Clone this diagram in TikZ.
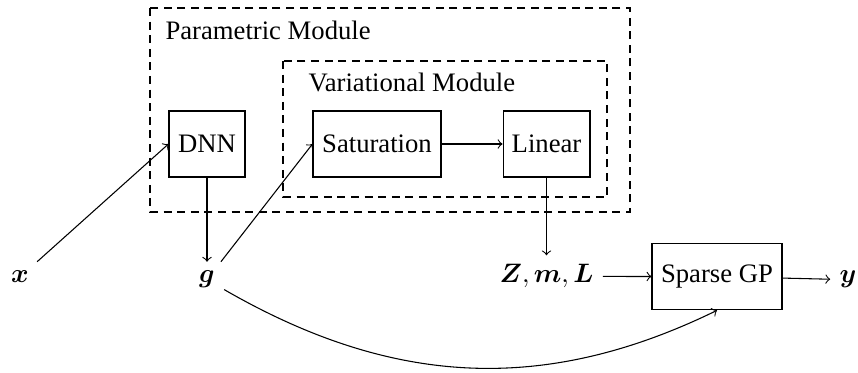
\documentclass[tikz,border=0pt]{standalone}
\usepackage{bm}
\usepackage{fontspec}
\setmainfont{Liberation Serif}
\begin{document}
\begin{tikzpicture}[x=0.375pt,y=-0.375pt,
  blk/.style={draw, line width=0.4pt, minimum height=24.75pt, inner sep=0pt, font=\fontsize{10}{12}\selectfont},
  lbl/.style={inner sep=3.33pt, anchor=base},
  modbox/.style={draw, dash pattern=on 3pt off 2.1pt, line width=0.4pt},
  modtext/.style={anchor=base west, inner sep=0pt, font=\fontsize{10}{12}\selectfont},
  conn/.style={->, line width=0.4pt}]
\useasboundingbox (0,0) rectangle (858,373);
% dashed modules
\draw[modbox] (150,8) rectangle (630,212);
\draw[modbox] (283,61) rectangle (607,197);
\node[modtext] (ptext) at (165,40) {Parametric Module};
\node[modtext] (vtext) at (308,92) {Variational Module};
% blocks
\node[blk, minimum width=28.5pt] (dnn) at (207,144) {DNN};
\node[blk, minimum width=48pt] (sat) at (377,144) {Saturation};
\node[blk, minimum width=32.6pt] (lin) at (546.5,144) {Linear};
\node[blk, minimum width=48.75pt, minimum height=25pt] (sgp) at (717,276.5) {Sparse GP};
% variables
\node[lbl] (x) at (20,283) {$\bm{x}$};
\node[lbl] (g) at (207,283) {$\bm{g}$};
\node[lbl] (zml) at (546.5,283) {$\bm{Z}, \bm{m}, \bm{L}$};
\node[lbl] (y) at (848,283) {$\bm{y}$};
% connectors
\draw[conn] (x) -- (dnn.west);
\draw[conn] (dnn) -- (g);
\draw[conn] (g) -- (sat.west);
\draw[conn] (sat) -- (lin);
\draw[conn] (lin) -- (zml);
\draw[conn] (zml) -- (sgp);
\draw[conn] (sgp) -- (y);
\draw[conn] (g) to[out=-30, in=-154] (sgp.south);
\end{tikzpicture}
\end{document}
